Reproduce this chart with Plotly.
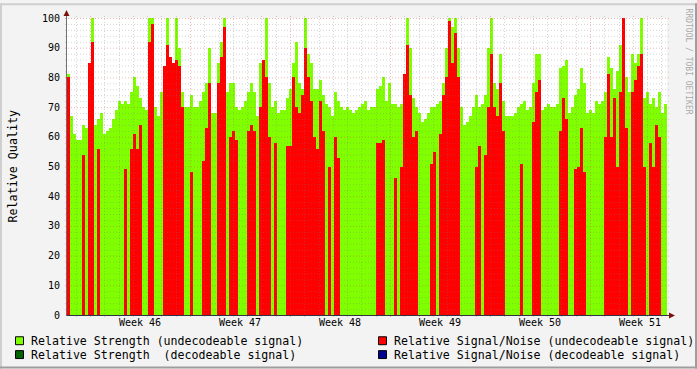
import plotly.graph_objects as go

# ---------------- data (one value per 3-pixel time bin, ~5 h each) ----------------
GREEN = [
    81, 67, 61, 59, 59, 64, 63, 76, 100, 64,
    66, 68, 61, 62, 63, 66, 69, 72, 71, 72,
    71, 75, 80, 77, 73, 70, 69, 100, 100, 70,
    67, 75, 82, 100, 80, 79, 100, 90, 75,
    70, 70, 74, 70, 70, 72, 75, 78, 90, 68,
    68, 85, 92, 100, 75, 78, 78, 70, 69, 70,
    72, 75, 78, 75, 67, 85, 85, 100, 78, 70,
    72, 68, 69, 69, 73, 76, 85, 92, 78, 76,
    100, 88, 85, 76, 76, 79, 74, 71, 70, 67,
    75, 72, 70, 69, 70, 69, 68, 69, 70, 71,
    72, 69, 70, 70, 76, 77, 80, 72, 78, 71,
    71, 70, 71, 72, 100, 90, 73, 70, 68, 65,
    66, 68, 70, 70, 71, 72, 78, 90, 100, 97,
    100, 90, 70, 64, 65, 67, 70, 74, 70, 71,
    74, 90, 100, 78, 76, 88, 72, 67, 67, 67,
    68, 70, 71, 72, 69, 70, 78, 88, 88, 69,
    70, 71, 70, 70, 71, 83, 84, 86, 68, 70,
    74, 76, 83, 78, 68, 69, 68, 72, 71, 72,
    75, 87, 83, 76, 82, 91, 100, 80, 75, 88,
    85, 88, 100, 73, 75, 71, 73, 70, 75, 68,
    71,
]
RED = [
    80, 0, 0, 0, 0, 54, 0, 85, 92, 0,
    56, 0, 0, 0, 0, 0, 0, 0, 0, 49,
    0, 56, 61, 56, 64, 0, 0, 92, 98, 0,
    0, 0, 84, 91, 87, 85, 86, 84, 70,
    0, 0, 48, 0, 0, 0, 52, 63, 78, 0,
    0, 78, 87, 97, 0, 60, 62, 59, 0, 0,
    0, 62, 64, 62, 0, 70, 86, 80, 60, 0,
    58, 0, 0, 0, 57, 57, 80, 70, 68, 74,
    90, 80, 72, 60, 56, 72, 62, 0, 50, 0,
    60, 53, 0, 0, 0, 0, 0, 0, 0, 0,
    0, 0, 0, 0, 58, 58, 59, 0, 0, 0,
    46, 0, 50, 81, 91, 74, 60, 62, 0, 0,
    0, 0, 51, 55, 0, 61, 74, 80, 99, 85,
    95, 80, 0, 0, 0, 0, 0, 50, 57, 0,
    54, 70, 88, 70, 67, 78, 62, 0, 0, 0,
    0, 0, 51, 0, 0, 0, 65, 75, 79, 0,
    0, 0, 0, 0, 0, 62, 73, 66, 0, 0,
    49, 50, 63, 48, 0, 0, 0, 0, 0, 0,
    60, 81, 60, 73, 50, 75, 100, 63, 0, 75,
    79, 84, 88, 50, 0, 58, 50, 64, 60, 0,
    0,
]
WEEK_LABELS = ["Week 46", "Week 47", "Week 48", "Week 49", "Week 50", "Week 51"]
Y_TICKS = [0, 10, 20, 30, 40, 50, 60, 70, 80, 90, 100]
LEGEND_LABELS = [
    "Relative Strength (undecodeable signal)",
    "Relative Signal/Noise (undecodeable signal)",
    "Relative Strength \u00a0(decodeable signal)",
    "Relative Signal/Noise (decodeable signal)",
]
LEGEND_COLORS = ["#80FF00", "#FF0000", "#006400", "#000090"]

# time axis in hours relative to Monday 00:00 of week 46
STEP_H = 5.04
START_H = -38.64
N = len(GREEN)
END_H = START_H + N * STEP_H
xs = [START_H + (i + 0.5) * STEP_H for i in range(N)]

# ---------------- layout geometry ----------------
W, H = 697, 369
PL, PR, PT, PB = 67, 667, 15, 315
FONT = "DejaVu Sans Mono"


def px(xp):
    return (xp - PL) / (PR - PL)


def py(yp):
    return (PB - yp) / (PB - PT)


def hour_to_px(h):
    return PL + (h - START_H) / (END_H - START_H) * (PR - PL)


fig = go.Figure()
fig.add_trace(go.Bar(x=xs, y=GREEN, width=STEP_H, marker=dict(color="#80FF00", line=dict(width=0)),
                     showlegend=False, hoverinfo="skip"))
fig.add_trace(go.Bar(x=xs, y=[v if v > 0 else None for v in RED], width=STEP_H,
                     marker=dict(color="#FF0000", line=dict(width=0)), showlegend=False, hoverinfo="skip"))

shapes = []
MINOR = "rgba(120,120,120,0.32)"
MAJOR = "rgba(210,60,60,0.38)"
DASH = "1px,2px"
# horizontal grid (snapped to pixel centres)
for v in range(2, 101, 2):
    ypix = round(PB - v * (PB - PT) / 100) + 0.5
    shapes.append(dict(type="line", xref="paper", yref="paper", x0=px(65), x1=px(669), y0=py(ypix), y1=py(ypix),
                       line=dict(color=MAJOR if v % 10 == 0 else MINOR, width=1, dash=DASH), layer="above"))
# vertical grid (days, weeks)
for d in range(-1, 41):
    h = d * 24
    if START_H < h < END_H:
        xpix = round(hour_to_px(h)) + 0.5
        shapes.append(dict(type="line", xref="paper", yref="paper", x0=px(xpix), x1=px(xpix), y0=py(317), y1=py(13),
                           line=dict(color=MAJOR if d % 7 == 0 else MINOR, width=1, dash=DASH), layer="above"))
# axes
shapes.append(dict(type="line", xref="paper", yref="paper", x0=px(66.5), x1=px(66.5), y0=py(315.5), y1=py(9),
                   line=dict(color="#707070", width=1), layer="above"))
shapes.append(dict(type="line", xref="paper", yref="paper", x0=px(66.5), x1=px(671), y0=py(315.5), y1=py(315.5),
                   line=dict(color="#303040", width=1), layer="above"))
# arrows
shapes.append(dict(type="path", xref="paper", yref="paper",
                   path=f"M {px(63.5)},{py(13)} L {px(69.5)},{py(13)} L {px(66.5)},{py(7)} Z",
                   fillcolor="#7F1010", line=dict(width=0), layer="above"))
shapes.append(dict(type="path", xref="paper", yref="paper",
                   path=f"M {px(669)},{py(312.5)} L {px(669)},{py(318.5)} L {px(675)},{py(315.5)} Z",
                   fillcolor="#7F1010", line=dict(width=0), layer="above"))
# frame shading
shapes += [
    dict(type="rect", xref="paper", yref="paper", x0=px(0), x1=px(W), y0=py(0), y1=py(2),
         fillcolor="#CFCFCF", line=dict(width=0)),
    dict(type="rect", xref="paper", yref="paper", x0=px(0), x1=px(2), y0=py(0), y1=py(H),
         fillcolor="#CFCFCF", line=dict(width=0)),
    dict(type="rect", xref="paper", yref="paper", x0=px(0), x1=px(W), y0=py(H - 2), y1=py(H),
         fillcolor="#9E9E9E", line=dict(width=0)),
    dict(type="rect", xref="paper", yref="paper", x0=px(W - 2), x1=px(W), y0=py(0), y1=py(H),
         fillcolor="#9E9E9E", line=dict(width=0)),
]

annotations = []
# legend
leg_pos = [(15, 341), (378, 341), (15, 355), (378, 355)]
for (lx, ly), lab, col in zip(leg_pos, LEGEND_LABELS, LEGEND_COLORS):
    shapes.append(dict(type="rect", xref="paper", yref="paper", x0=px(lx + 0.5), x1=px(lx + 8.5),
                       y0=py(ly - 4), y1=py(ly + 4), fillcolor=col, line=dict(color="#000000", width=1)))
    annotations.append(dict(x=px(lx + 14), y=py(ly), xref="paper", yref="paper", text=lab, showarrow=False,
                            xanchor="left", yanchor="middle", font=dict(family=FONT, size=11.6, color="#000000")))
# y title
annotations.append(dict(x=px(12), y=0.5, xref="paper", yref="paper", text="Relative Quality", showarrow=False,
                        textangle=-90, xanchor="center", yanchor="middle",
                        font=dict(family=FONT, size=11.7, color="#000000")))
# watermark
annotations.append(dict(x=px(688), y=py(59), xref="paper", yref="paper", text="RRDTOOL / TOBI OETIKER",
                        showarrow=False, textangle=90, xanchor="center", yanchor="middle",
                        font=dict(family=FONT, size=8, color="#AAAAAA")))

fig.update_layout(
    width=W, height=H, autosize=False,
    margin=dict(l=PL, r=W - PR, t=PT, b=H - PB, pad=0),
    paper_bgcolor="#F3F3F3", plot_bgcolor="#FFFFFF",
    barmode="overlay", bargap=0,
    shapes=shapes, annotations=annotations, showlegend=False,
    xaxis=dict(range=[START_H, END_H], showgrid=False, zeroline=False, showline=False, ticks="",
               tickvals=[84 + 168 * k for k in range(len(WEEK_LABELS))], ticktext=WEEK_LABELS,
               tickfont=dict(family=FONT, size=10, color="#000000"), fixedrange=True),
    yaxis=dict(range=[0, 100], showgrid=False, zeroline=False, showline=False, ticks="",
               tickvals=Y_TICKS, ticktext=[str(t) for t in Y_TICKS], ticklabelstandoff=6,
               tickfont=dict(family=FONT, size=10, color="#000000"), fixedrange=True),
)

fig.write_html("out.html")
